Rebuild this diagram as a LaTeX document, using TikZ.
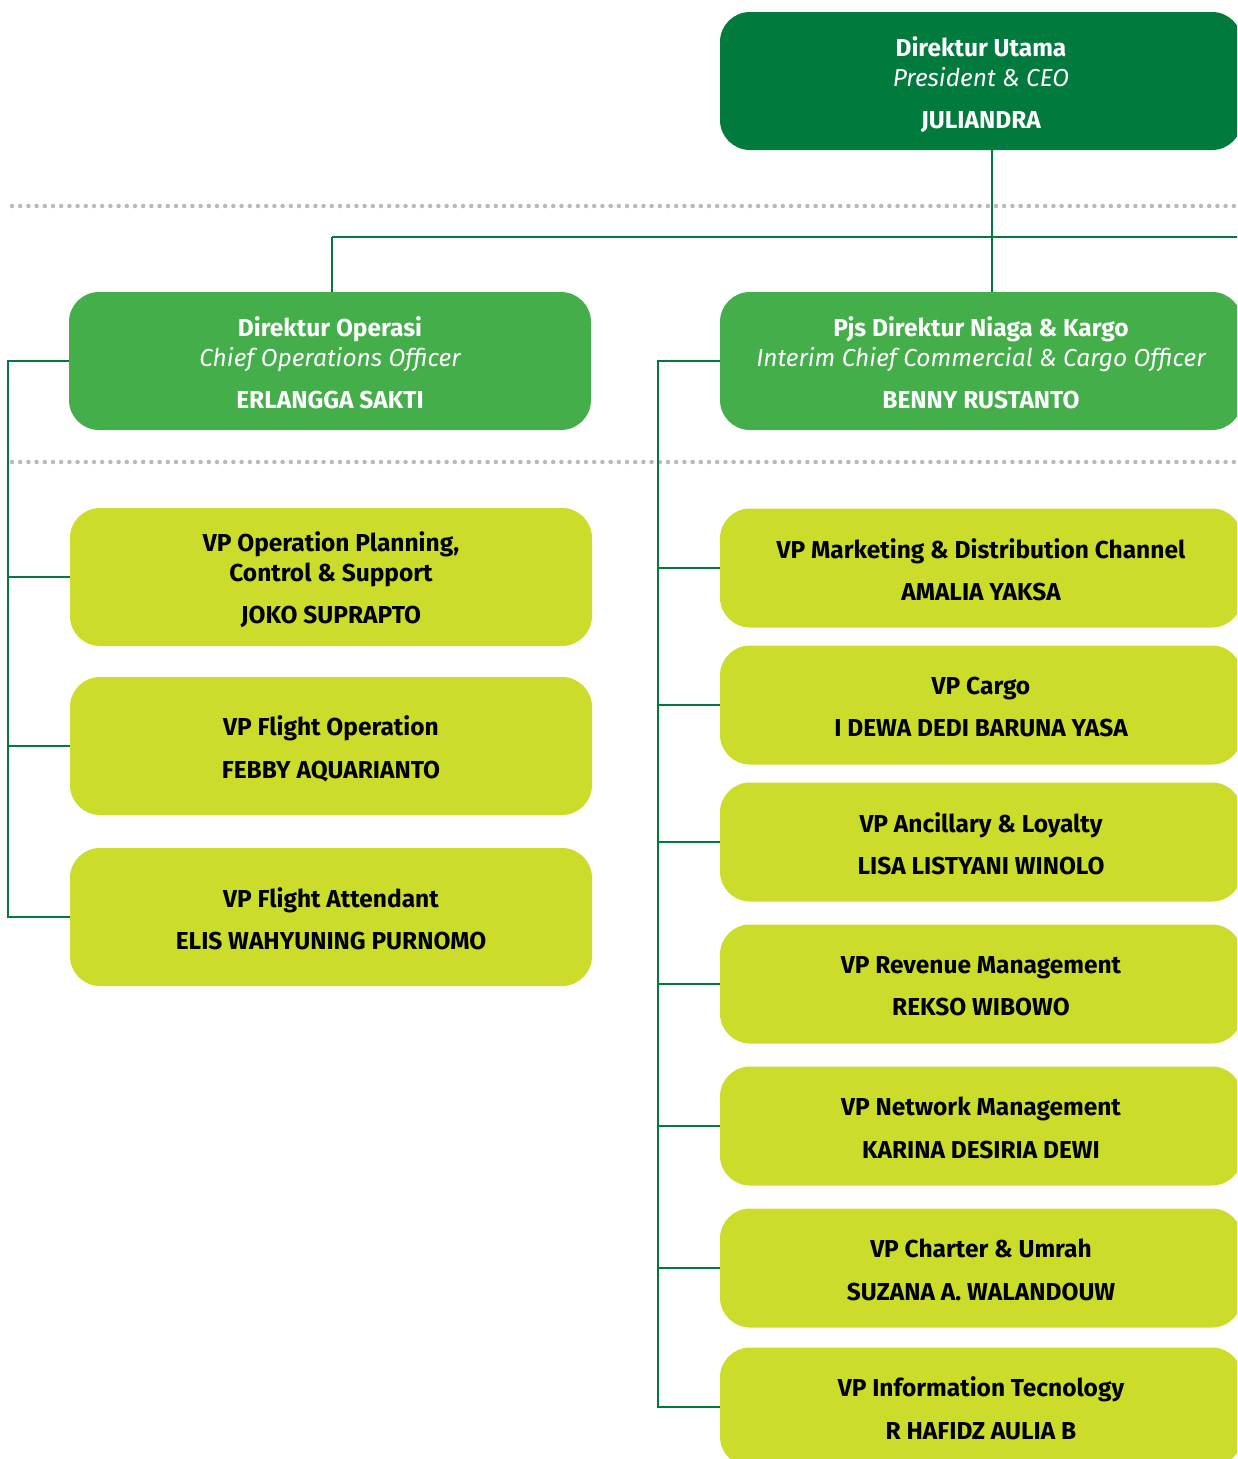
\documentclass[tikz,border=0pt]{standalone}
\usepackage{fontspec}
\setmainfont{Fira Sans}
\definecolor{dkgreen}{RGB}{0,122,61}
\definecolor{mdgreen}{RGB}{67,174,74}
\definecolor{lime}{RGB}{203,220,42}
\definecolor{dotgray}{RGB}{185,185,185}
\begin{document}
\begin{tikzpicture}[x=1pt,y=-1pt,
  box/.style={rectangle,rounded corners=30pt,minimum width=522pt,inner sep=0pt},
  topbox/.style={box,fill=dkgreen,minimum height=138pt},
  dirbox/.style={box,fill=mdgreen,minimum height=138pt},
  vpboxL/.style={box,fill=lime,minimum height=138pt},
  vpboxR/.style={box,fill=lime,minimum height=119pt},
  txt/.style={inner sep=0pt,align=center,font=\fontsize{24.5}{30.5}\selectfont\bfseries},
  wtxt/.style={txt,text=white},
  btxt/.style={txt,text=black},
  conn/.style={draw=dkgreen,line width=2.6pt},
  dotline/.style={draw=dotgray,line width=4.5pt,line cap=round,dash pattern=on 0pt off 8.2pt}
]
\useasboundingbox (0,0) rectangle (1237,1459);
\begin{scope}
\clip (0,0) rectangle (1237,1459);
% dotted separators
\draw[dotline] (12,206) -- (1240,206);
\draw[dotline] (12,462) -- (1240,462);
% boxes
\node[topbox] (top) at (981,81) {};
\node[dirbox] (dop) at (330,361) {};
\node[dirbox] (pjs) at (981,361) {};
\node[vpboxL] (l1) at (331,577) {};
\node[vpboxL] (l2) at (331,746) {};
\node[vpboxL] (l3) at (331,917) {};
\node[vpboxR] (r1) at (981,568) {};
\node[vpboxR] (r2) at (981,705) {};
\node[vpboxR] (r3) at (981,842) {};
\node[vpboxR] (r4) at (981,984) {};
\node[vpboxR] (r5) at (981,1126) {};
\node[vpboxR] (r6) at (981,1268) {};
\node[vpboxR] (r7) at (981,1407) {};
% texts
\node[wtxt] (topt) at ([yshift=-4pt]top.center) {Direktur Utama\\[-1pt]{\mdseries\itshape President \& CEO}\\[12pt]JULIANDRA};
\node[wtxt] (dopt) at ([yshift=-2pt]dop.center) {Direktur Operasi\\[-1pt]{\mdseries\itshape Chief Operations Officer}\\[12pt]ERLANGGA SAKTI};
\node[wtxt] (pjst) at ([yshift=-2pt]pjs.center) {Pjs Direktur Niaga \& Kargo\\[-1pt]{\mdseries\itshape Interim Chief Commercial \& Cargo Officer}\\[12pt]BENNY RUSTANTO};
\node[btxt] (l1t) at ([yshift=-3pt]l1.center) {VP Operation Planning,\\[-1pt]Control \& Support\\[12pt]JOKO SUPRAPTO};
\node[btxt] (l2t) at ([yshift=-3pt]l2.center) {VP Flight Operation\\[12pt]FEBBY AQUARIANTO};
\node[btxt] (l3t) at ([yshift=-2pt]l3.center) {VP Flight Attendant\\[12pt]ELIS WAHYUNING PURNOMO};
\node[btxt] (r1t) at ([yshift=-2pt]r1.center) {VP Marketing \& Distribution Channel\\[12pt]AMALIA YAKSA};
\node[btxt] (r2t) at ([yshift=-2pt]r2.center) {VP Cargo\\[12pt]I DEWA DEDI BARUNA YASA};
\node[btxt] (r3t) at ([yshift=-2pt]r3.center) {VP Ancillary \& Loyalty\\[12pt]LISA LISTYANI WINOLO};
\node[btxt] (r4t) at ([yshift=-2pt]r4.center) {VP Revenue Management\\[12pt]REKSO WIBOWO};
\node[btxt] (r5t) at ([yshift=-2pt]r5.center) {VP Network Management\\[12pt]KARINA DESIRIA DEWI};
\node[btxt] (r6t) at ([yshift=-2pt]r6.center) {VP Charter \& Umrah\\[12pt]SUZANA A. WALANDOUW};
\node[btxt] (r7t) at ([yshift=-1.5pt]r7.center) {VP Information Tecnology\\[12pt]R HAFIDZ AULIA B};
% connectors top
\coordinate (jl) at (332,237);
\coordinate (jx) at (992,237);
\coordinate (jr) at (1245,237);
\draw[conn] (jx |- top.south) -- (jx |- pjs.north);
\draw[conn] (jl) -- (jr);
\draw[conn] (jl) -- (jl |- dop.north);
% left bracket
\coordinate (lb) at (8,0);
\draw[conn] (dop.west) -- (dop.west -| lb) -- (lb |- l3.west) -- (l3.west);
\draw[conn] (lb |- l1.west) -- (l1.west);
\draw[conn] (lb |- l2.west) -- (l2.west);
% right bracket
\coordinate (rb) at (658,0);
\draw[conn] (pjs.west) -- (pjs.west -| rb) -- (rb |- r7.west) -- (r7.west);
\foreach \n in {r1,r2,r3,r4,r5,r6}{\draw[conn] (rb |- \n.west) -- (\n.west);}
\end{scope}
\end{tikzpicture}
\end{document}
